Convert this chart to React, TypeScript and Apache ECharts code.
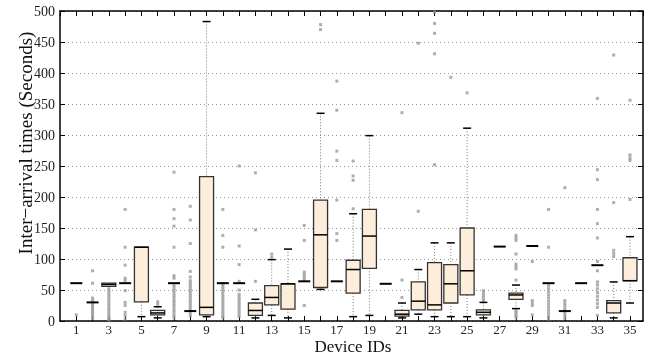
import React, { useEffect, useRef } from "react";
import * as echarts from "echarts";

const deviceIds = [1,2,3,4,5,6,7,8,9,10,11,12,13,14,15,16,17,18,19,20,21,22,23,24,25,26,27,28,29,30,31,32,33,34,35];
const lowWhisker = [61,30,56,61,7,5,61,16,7,61,61,5,9,5,64,51,64,7,9,60,5,11,7,7,7,5,120,20,121,61,16,61,90,5,29];
const q1Values   = [61,30,56,61,31,10,61,16,10,61,61,9,26,19,64,54,64,45,85,60,8,18,18,29,42,10,120,35,121,61,16,61,90,13,65];
const medians    = [61,30,59,61,119,13,61,16,22,61,61,17,38,60,64,139,64,83,137,60,11,32,26,60,81,14,120,42,121,61,16,61,90,29,65];
const q3Values   = [61,30,61,61,119,17,61,16,233,61,61,29,57,60,64,195,64,98,180,60,17,63,94,91,150,18,120,45,121,61,16,61,90,33,102];
const highWhisker= [61,30,61,61,119,23,61,16,483,61,61,35,99,116,64,335,64,173,299,60,29,83,126,126,311,30,120,58,121,61,16,61,90,63,136];
const outliers: number[][] = [
  [10],
  [81,61,37,33,28,25,22,19,16,13,10,7,4],
  [52,48,44,40,36,32,28,24,20,16,12,8,4,2],
  [180,119,90,69,65,49,30,25,14,9,3],
  [],
  [31,27],
  [240,180,165,153,119,73,69,57,53,49,45,41,37,33,29,25,21,17,13,9,5],
  [185,163,125,80,71,65,61,57,53,49,45,41,37,33,29,25,21,17,13,9],
  [],
  [180,138,119,60,56,52,48,44,40,36,32,28,24,20,16,12,8,5],
  [250,121,91,64,50,43,39,35,31,27,23,19,15,11,7],
  [239,147,64],
  [108,103],
  [],
  [154,130,79,75,71,67,25],
  [478,470],
  [387,340,274,259,195,141,130],
  [258,234,227,181],
  [],
  [],
  [336,66,38],
  [448,177],
  [498,480,464,431,252],
  [393],
  [368],
  [49,45,41,37,33],
  [],
  [138,134,130,108,92,88,84,66,17,14,11,8,5],
  [96,33,29,25,10],
  [180,119,57,52,47,42,37,32,27,22,17,12,7,3],
  [215,33,29,25,20,16,12,8,4],
  [],
  [359,244,228,180,157,134,96,81,63,58,52,46,40,34,28,22,9],
  [429,191,114,109,104],
  [356,268,263,259,196],
];
const xTickLabels = ["1","3","5","7","9","11","13","15","17","19","21","23","25","27","29","31","33","35"];
const yTitle = "Inter\u2212arrival times (Seconds)";
const xTitle = "Device IDs";

const FONT = "Liberation Serif";

export default function App() {
  const ref = useRef<HTMLDivElement>(null);
  useEffect(() => {
    if (!ref.current) return;
    const chart = echarts.init(ref.current, null, { renderer: "svg" });
    const boxData = deviceIds.map((id, i) => [id, lowWhisker[i], q1Values[i], medians[i], q3Values[i], highWhisker[i]]);
    const outlierData: number[][] = [];
    deviceIds.forEach((id, i) => outliers[i].forEach((v) => outlierData.push([id, v])));

    const renderItem = (params: any, api: any) => {
      const x = api.value(0);
      const low = api.value(1), q1 = api.value(2), med = api.value(3), q3 = api.value(4), high = api.value(5);
      const pLow = api.coord([x, low]);
      const pQ1 = api.coord([x, q1]);
      const pMed = api.coord([x, med]);
      const pQ3 = api.coord([x, q3]);
      const pHigh = api.coord([x, high]);
      const cx = pMed[0];
      const hb = 7, hc = 4;
      const children: any[] = [];
      if (q1 === q3 && low === high) {
        children.push({ type: "line", shape: { x1: cx - 6, y1: pMed[1], x2: cx + 6, y2: pMed[1] }, style: { stroke: "#000", lineWidth: 2 } });
        return { type: "group", children };
      }
      if (high > q3) {
        children.push({ type: "line", shape: { x1: cx, y1: pHigh[1], x2: cx, y2: pQ3[1] }, style: { stroke: "#777", lineWidth: 1, lineDash: [1, 2] } });
        children.push({ type: "line", shape: { x1: cx - hc, y1: pHigh[1], x2: cx + hc, y2: pHigh[1] }, style: { stroke: "#000", lineWidth: 1.5 } });
      }
      if (low < q1) {
        children.push({ type: "line", shape: { x1: cx, y1: pQ1[1], x2: cx, y2: pLow[1] }, style: { stroke: "#777", lineWidth: 1, lineDash: [1, 2] } });
        children.push({ type: "line", shape: { x1: cx - hc, y1: pLow[1], x2: cx + hc, y2: pLow[1] }, style: { stroke: "#000", lineWidth: 1.5 } });
      }
      children.push({ type: "rect", shape: { x: cx - hb, y: pQ3[1], width: hb * 2, height: Math.max(pQ1[1] - pQ3[1], 1) }, style: { fill: "#FDEEDC", stroke: "#333", lineWidth: 1.3 } });
      children.push({ type: "line", shape: { x1: cx - hb, y1: pMed[1], x2: cx + hb, y2: pMed[1] }, style: { stroke: "#000", lineWidth: 1.5 } });
      return { type: "group", children };
    };

    const axisLine = { show: true, onZero: false, lineStyle: { color: "#000", width: 1.5 } };
    const axisTick = { show: true, inside: true, length: 5, lineStyle: { color: "#000", width: 1 } };
    const labelStyle = { color: "#222", fontFamily: FONT, fontSize: 14 };

    chart.setOption({
      animation: false,
      grid: { left: 60, right: 17, top: 11, bottom: 35, containLabel: false, outerBoundsMode: "none" },
      graphic: [
        {
          type: "text", x: 25, y: 143, rotation: Math.PI / 2,
          style: { text: yTitle, fontFamily: FONT, fontSize: 19, fill: "#111", textAlign: "center", textVerticalAlign: "middle" },
        },
        {
          type: "text", x: 353, y: 346,
          style: { text: xTitle, fontFamily: FONT, fontSize: 17, fill: "#111", textAlign: "center", textVerticalAlign: "middle" },
        },
      ],
      xAxis: [
        {
          type: "value", min: 0, max: 35.8, interval: 1, position: "bottom",
          axisLine, axisTick,
          axisLabel: { ...labelStyle, fontSize: 13, margin: 2, showMaxLabel: false, showMinLabel: false,
            formatter: (v: number) => (xTickLabels.includes(String(v)) ? String(v) : "") },
          splitLine: { show: false },
        },
        {
          type: "value", min: 0, max: 35.8, interval: 1, position: "top",
          axisLine, axisTick, axisLabel: { show: false }, splitLine: { show: false },
        },
      ],
      yAxis: [
        {
          type: "value", min: 0, max: 500, interval: 50,
          axisLine, axisTick,
          axisLabel: { ...labelStyle, margin: 5 },
          splitLine: { show: true, lineStyle: { color: "#999", type: [1, 3], width: 1 } },
        },
        {
          type: "value", min: 0, max: 500, interval: 50, position: "right",
          axisLine, axisTick, axisLabel: { show: false }, splitLine: { show: false },
        },
      ],
      series: [
        {
          type: "scatter", data: outlierData, symbol: "rect", symbolSize: 3,
          itemStyle: { color: "#9a9a9a" }, z: 2,
        },
        {
          type: "custom", data: boxData, renderItem, z: 3,
          encode: { x: 0, y: [1, 2, 3, 4, 5] },
        },
      ],
    });
    return () => chart.dispose();
  }, []);
  return <div ref={ref} style={{ position: "fixed", left: 0, top: 0, width: 660, height: 356 }} />;
}
